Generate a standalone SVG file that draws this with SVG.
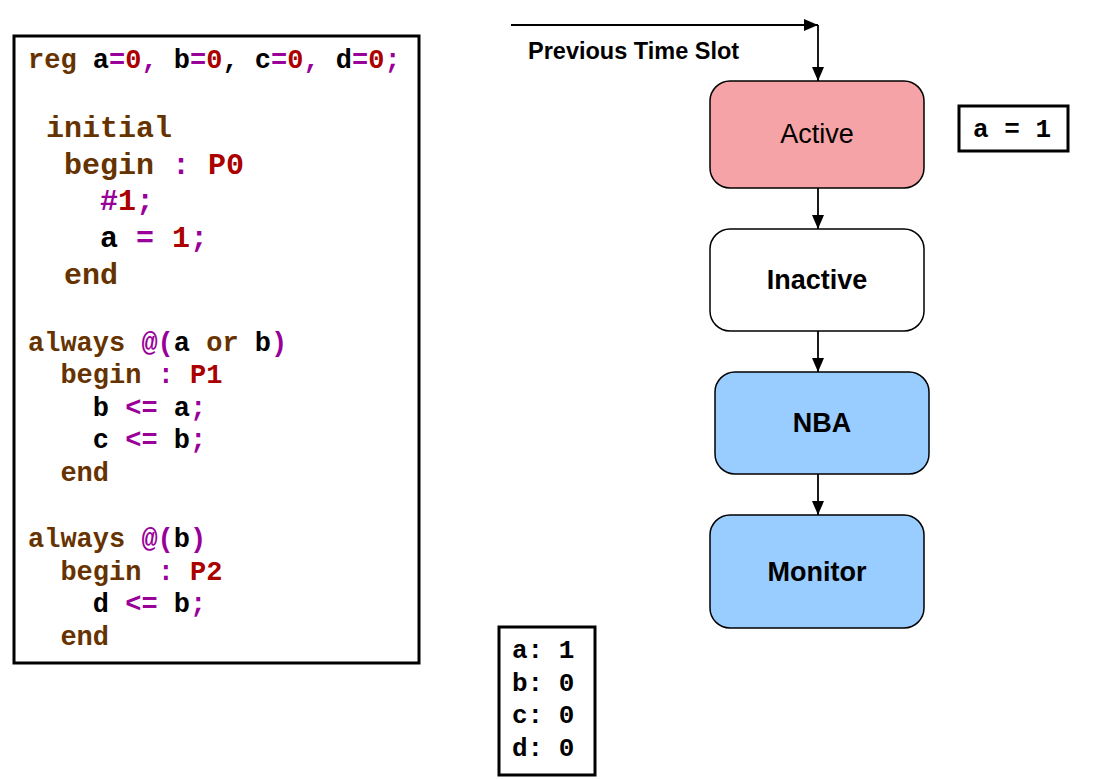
<svg xmlns="http://www.w3.org/2000/svg" width="1107" height="779" viewBox="0 0 1107 779">
<defs>
<style>
.code{font-family:"Liberation Mono","Courier New",monospace;font-weight:bold;white-space:pre}
.k{fill:#663300}.p{fill:#990099}.r{fill:#aa0000}.b{fill:#000}
.box{fill:#fff;stroke:#000;stroke-width:3}
.node{stroke:#000;stroke-width:1.5}
.lbl{font-family:"Liberation Sans",Arial,sans-serif;font-size:27px;text-anchor:middle;fill:#000}
.conn{stroke:#000;stroke-width:1.8;fill:none}
</style>
<marker id="ahd" viewBox="0 0 14 12" refX="14" refY="6" markerWidth="14" markerHeight="12" markerUnits="userSpaceOnUse" orient="auto"><path d="M0,0 L14,6 L0,12 Z" fill="#000"/></marker>
</defs>
<rect width="1107" height="779" fill="#fff"/>

<g id="code">
<rect class="box" x="14" y="36" width="405" height="627"/>
<text class="code" font-size="27" x="28" y="68" xml:space="preserve"><tspan class="k">reg</tspan> <tspan class="b">a</tspan><tspan class="p">=</tspan><tspan class="r">0</tspan><tspan class="p">,</tspan> <tspan class="b">b</tspan><tspan class="p">=</tspan><tspan class="r">0</tspan><tspan class="b">,</tspan> <tspan class="b">c</tspan><tspan class="p">=</tspan><tspan class="r">0</tspan><tspan class="p">,</tspan> <tspan class="b">d</tspan><tspan class="p">=</tspan><tspan class="r">0</tspan><tspan class="p">;</tspan></text>
<text class="code" font-size="30" x="28" y="137" xml:space="preserve"> <tspan class="k">initial</tspan></text>
<text class="code" font-size="30" x="28" y="174" xml:space="preserve">  <tspan class="k">begin</tspan> <tspan class="p">:</tspan> <tspan class="r">P0</tspan></text>
<text class="code" font-size="30" x="28" y="210" xml:space="preserve">    <tspan class="p">#</tspan><tspan class="r">1</tspan><tspan class="p">;</tspan></text>
<text class="code" font-size="30" x="28" y="247" xml:space="preserve">    <tspan class="b">a</tspan> <tspan class="p">=</tspan> <tspan class="r">1</tspan><tspan class="p">;</tspan></text>
<text class="code" font-size="30" x="28" y="284" xml:space="preserve">  <tspan class="k">end</tspan></text>
<text class="code" font-size="27" x="28" y="351" xml:space="preserve"><tspan class="k">always</tspan> <tspan class="p">@(</tspan><tspan class="b">a</tspan> <tspan class="k">or</tspan> <tspan class="b">b</tspan><tspan class="p">)</tspan></text>
<text class="code" font-size="27" x="28" y="383" xml:space="preserve">  <tspan class="k">begin</tspan> <tspan class="p">:</tspan> <tspan class="r">P1</tspan></text>
<text class="code" font-size="27" x="28" y="416" xml:space="preserve">    <tspan class="b">b</tspan> <tspan class="p">&lt;=</tspan> <tspan class="b">a</tspan><tspan class="p">;</tspan></text>
<text class="code" font-size="27" x="28" y="448" xml:space="preserve">    <tspan class="b">c</tspan> <tspan class="p">&lt;=</tspan> <tspan class="b">b</tspan><tspan class="p">;</tspan></text>
<text class="code" font-size="27" x="28" y="481" xml:space="preserve">  <tspan class="k">end</tspan></text>
<text class="code" font-size="27" x="28" y="547" xml:space="preserve"><tspan class="k">always</tspan> <tspan class="p">@(</tspan><tspan class="b">b</tspan><tspan class="p">)</tspan></text>
<text class="code" font-size="27" x="28" y="580" xml:space="preserve">  <tspan class="k">begin</tspan> <tspan class="p">:</tspan> <tspan class="r">P2</tspan></text>
<text class="code" font-size="27" x="28" y="612" xml:space="preserve">    <tspan class="b">d</tspan> <tspan class="p">&lt;=</tspan> <tspan class="b">b</tspan><tspan class="p">;</tspan></text>
<text class="code" font-size="27" x="28" y="645" xml:space="preserve">  <tspan class="k">end</tspan></text>
</g>

<g id="connectors">
<line class="conn" x1="511" y1="25" x2="818" y2="25" marker-end="url(#ahd)"/>
<line class="conn" x1="818" y1="25" x2="818" y2="81" marker-end="url(#ahd)"/>
<line class="conn" x1="818" y1="188" x2="818" y2="229" marker-end="url(#ahd)"/>
<line class="conn" x1="818" y1="331" x2="818" y2="372" marker-end="url(#ahd)"/>
<line class="conn" x1="818" y1="474" x2="818" y2="515" marker-end="url(#ahd)"/>
</g>

<g id="prev-label">
<text x="528" y="59" font-family="Liberation Sans, Arial, sans-serif" font-size="23.5" font-weight="bold" fill="#000">Previous Time Slot</text>
</g>

<g id="active">
<rect class="node" x="710" y="81" width="214" height="107" rx="20" fill="#f5a3a6"/>
<text class="lbl" x="817" y="143">Active</text>
</g>
<g id="inactive">
<rect class="node" x="710" y="229" width="214" height="102" rx="20" fill="#fff"/>
<text class="lbl" x="817" y="289" font-weight="bold">Inactive</text>
</g>
<g id="nba">
<rect class="node" x="715" y="372" width="214" height="102" rx="20" fill="#99ccff"/>
<text class="lbl" x="822" y="432" font-weight="bold">NBA</text>
</g>
<g id="monitor">
<rect class="node" x="710" y="515" width="214" height="113" rx="20" fill="#99ccff"/>
<text class="lbl" x="817" y="581" font-weight="bold">Monitor</text>
</g>

<g id="assign">
<rect class="box" x="959" y="106" width="109" height="45"/>
<text class="code" font-size="26" x="973" y="137" xml:space="preserve">a = 1</text>
</g>

<g id="values">
<rect class="box" x="499" y="627" width="96" height="148"/>
<text class="code" font-size="26" x="512" y="658">a: 1</text>
<text class="code" font-size="26" x="512" y="691">b: 0</text>
<text class="code" font-size="26" x="512" y="723">c: 0</text>
<text class="code" font-size="26" x="512" y="756">d: 0</text>
</g>
</svg>
